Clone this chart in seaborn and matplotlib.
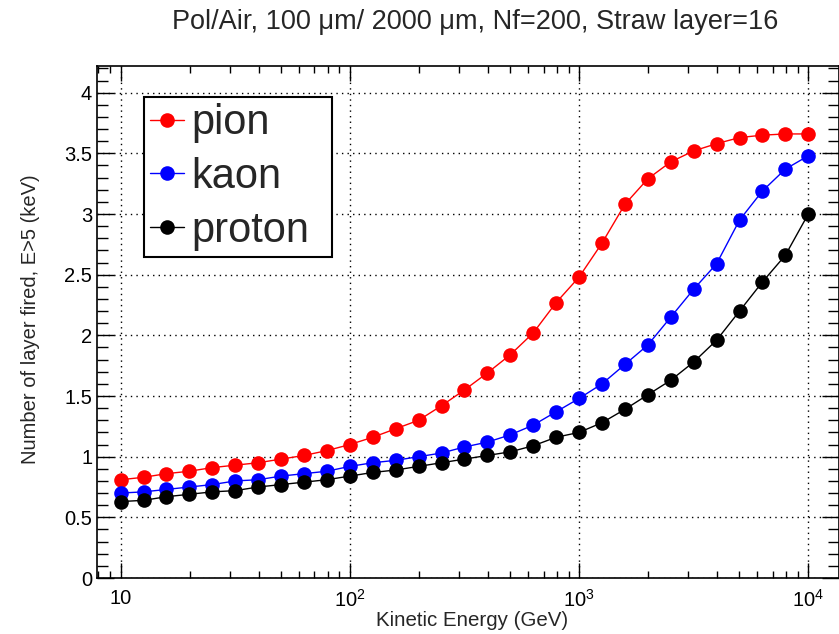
import matplotlib
matplotlib.use("Agg")
import matplotlib.pyplot as plt
import matplotlib.ticker as mticker
import numpy as np
import pandas as pd
import seaborn as sns

# ---- data ----
energy = [10, 12.59, 15.85, 19.95, 25.12, 31.62, 39.81, 50.12, 63.10, 79.43,
          100, 125.9, 158.5, 199.5, 251.2, 316.2, 398.1, 501.2, 631.0, 794.3,
          1000, 1259, 1585, 1995, 2512, 3162, 3981, 5012, 6310, 7943, 10000]

pion = [0.81, 0.83, 0.86, 0.88, 0.91, 0.93, 0.95, 0.98, 1.01, 1.05,
        1.10, 1.16, 1.23, 1.30, 1.42, 1.55, 1.69, 1.84, 2.02, 2.27,
        2.48, 2.76, 3.08, 3.29, 3.43, 3.52, 3.58, 3.63, 3.65, 3.66, 3.66]

kaon = [0.70, 0.71, 0.73, 0.75, 0.77, 0.80, 0.81, 0.84, 0.86, 0.88,
        0.92, 0.95, 0.97, 1.00, 1.03, 1.08, 1.12, 1.18, 1.26, 1.37,
        1.48, 1.60, 1.76, 1.92, 2.15, 2.38, 2.59, 2.95, 3.19, 3.37, 3.48]

proton = [0.63, 0.64, 0.67, 0.69, 0.71, 0.72, 0.75, 0.77, 0.79, 0.81,
          0.84, 0.87, 0.89, 0.92, 0.95, 0.98, 1.01, 1.04, 1.09, 1.16,
          1.20, 1.28, 1.39, 1.51, 1.63, 1.78, 1.96, 2.20, 2.44, 2.66, 3.00]

species = ["pion", "kaon", "proton"]
colors = ["#ff0000", "#0000ff", "#000000"]

x_ticks = [10, 100, 1000, 10000]
x_tick_labels = ["10", "$10^{2}$", "$10^{3}$", "$10^{4}$"]
y_ticks = [0, 0.5, 1, 1.5, 2, 2.5, 3, 3.5, 4]
y_tick_labels = ["0", "0.5", "1", "1.5", "2", "2.5", "3", "3.5", "4"]

title = "Pol/Air, 100 \u03bcm/ 2000 \u03bcm, Nf=200, Straw layer=16"
xlabel = "Kinetic Energy (GeV)"
ylabel = "Number of layer fired, E>5 (keV)"

df = pd.concat([
    pd.DataFrame({"energy": energy, "layers": vals, "particle": name})
    for name, vals in zip(species, [pion, kaon, proton])
], ignore_index=True)

# ---- style ----
sns.set_style("ticks")
plt.rcParams["font.family"] = ["Liberation Sans", "DejaVu Sans"]
plt.rcParams["mathtext.fontset"] = "custom"
plt.rcParams["mathtext.rm"] = "Liberation Sans"
plt.rcParams["mathtext.it"] = "Liberation Sans"

W, H = 839, 634
PT = 72 / 100  # points per pixel
fig = plt.figure(figsize=(W / 100, H / 100), dpi=100)
ax = fig.add_axes([97 / W, 56 / H, 742 / W, 512 / H])

sns.lineplot(data=df, x="energy", y="layers", hue="particle",
             hue_order=species, palette=colors, marker="o",
             markersize=10.5, markeredgewidth=0, linewidth=1.0,
             ax=ax, legend=True)

ax.set_xscale("log")
ax.set_xlim(10 ** 0.897, 10 ** 4.134)
ax.set_ylim(0, 4.22)

ax.xaxis.set_major_locator(mticker.FixedLocator(x_ticks))
ax.xaxis.set_major_formatter(mticker.FixedFormatter(x_tick_labels))
ax.xaxis.set_minor_locator(mticker.LogLocator(base=10, subs=np.arange(2, 10)))
ax.xaxis.set_minor_formatter(mticker.NullFormatter())
ax.yaxis.set_major_locator(mticker.FixedLocator(y_ticks))
ax.yaxis.set_major_formatter(mticker.FixedFormatter(y_tick_labels))
ax.yaxis.set_minor_locator(mticker.MultipleLocator(0.1))

ax.tick_params(which="both", direction="in", top=True, right=True,
               labelsize=14.5, colors="black", width=1.0)
ax.tick_params(axis="x", which="major", length=15 * PT, pad=8)
ax.tick_params(axis="x", which="minor", length=7 * PT)
ax.tick_params(axis="y", which="major", length=17 * PT, pad=3.5)
ax.tick_params(axis="y", which="minor", length=11 * PT)

for s in ax.spines.values():
    s.set_linewidth(1.2)
    s.set_color("black")

ax.grid(True, which="major", linestyle=(0, (1, 3)), color="black", linewidth=1.0)

ax.set_xlabel("")
ax.set_ylabel("")
fig.text(472 / W, 1 - 620 / H, xlabel, ha="center", va="center", fontsize=14.8)
fig.text(31 / W, 1 - 319 / H, ylabel, ha="center", va="center",
         rotation=90, fontsize=14.5)
fig.text(475 / W, 1 - 22 / H, title, ha="center", va="center", fontsize=19.5)

x0 = (144 - 97) / 742
y1 = (578 - 97) / 512
lw = (332 - 144) / 742
lh = (253 - 94) / 512
leg = ax.legend(loc="upper left", bbox_to_anchor=(x0, y1 - lh, lw, lh),
                mode="expand", borderaxespad=0, fontsize=30, frameon=True,
                fancybox=False, framealpha=1, edgecolor="black",
                handlelength=0.82, handletextpad=0.17, labelspacing=0.33,
                borderpad=0.15)
leg.get_frame().set_linewidth(1.5)
for line in leg.get_lines():
    line.set_markersize(10.5)
    line.set_linewidth(1.0)

fig.savefig("out.png", dpi=100)
